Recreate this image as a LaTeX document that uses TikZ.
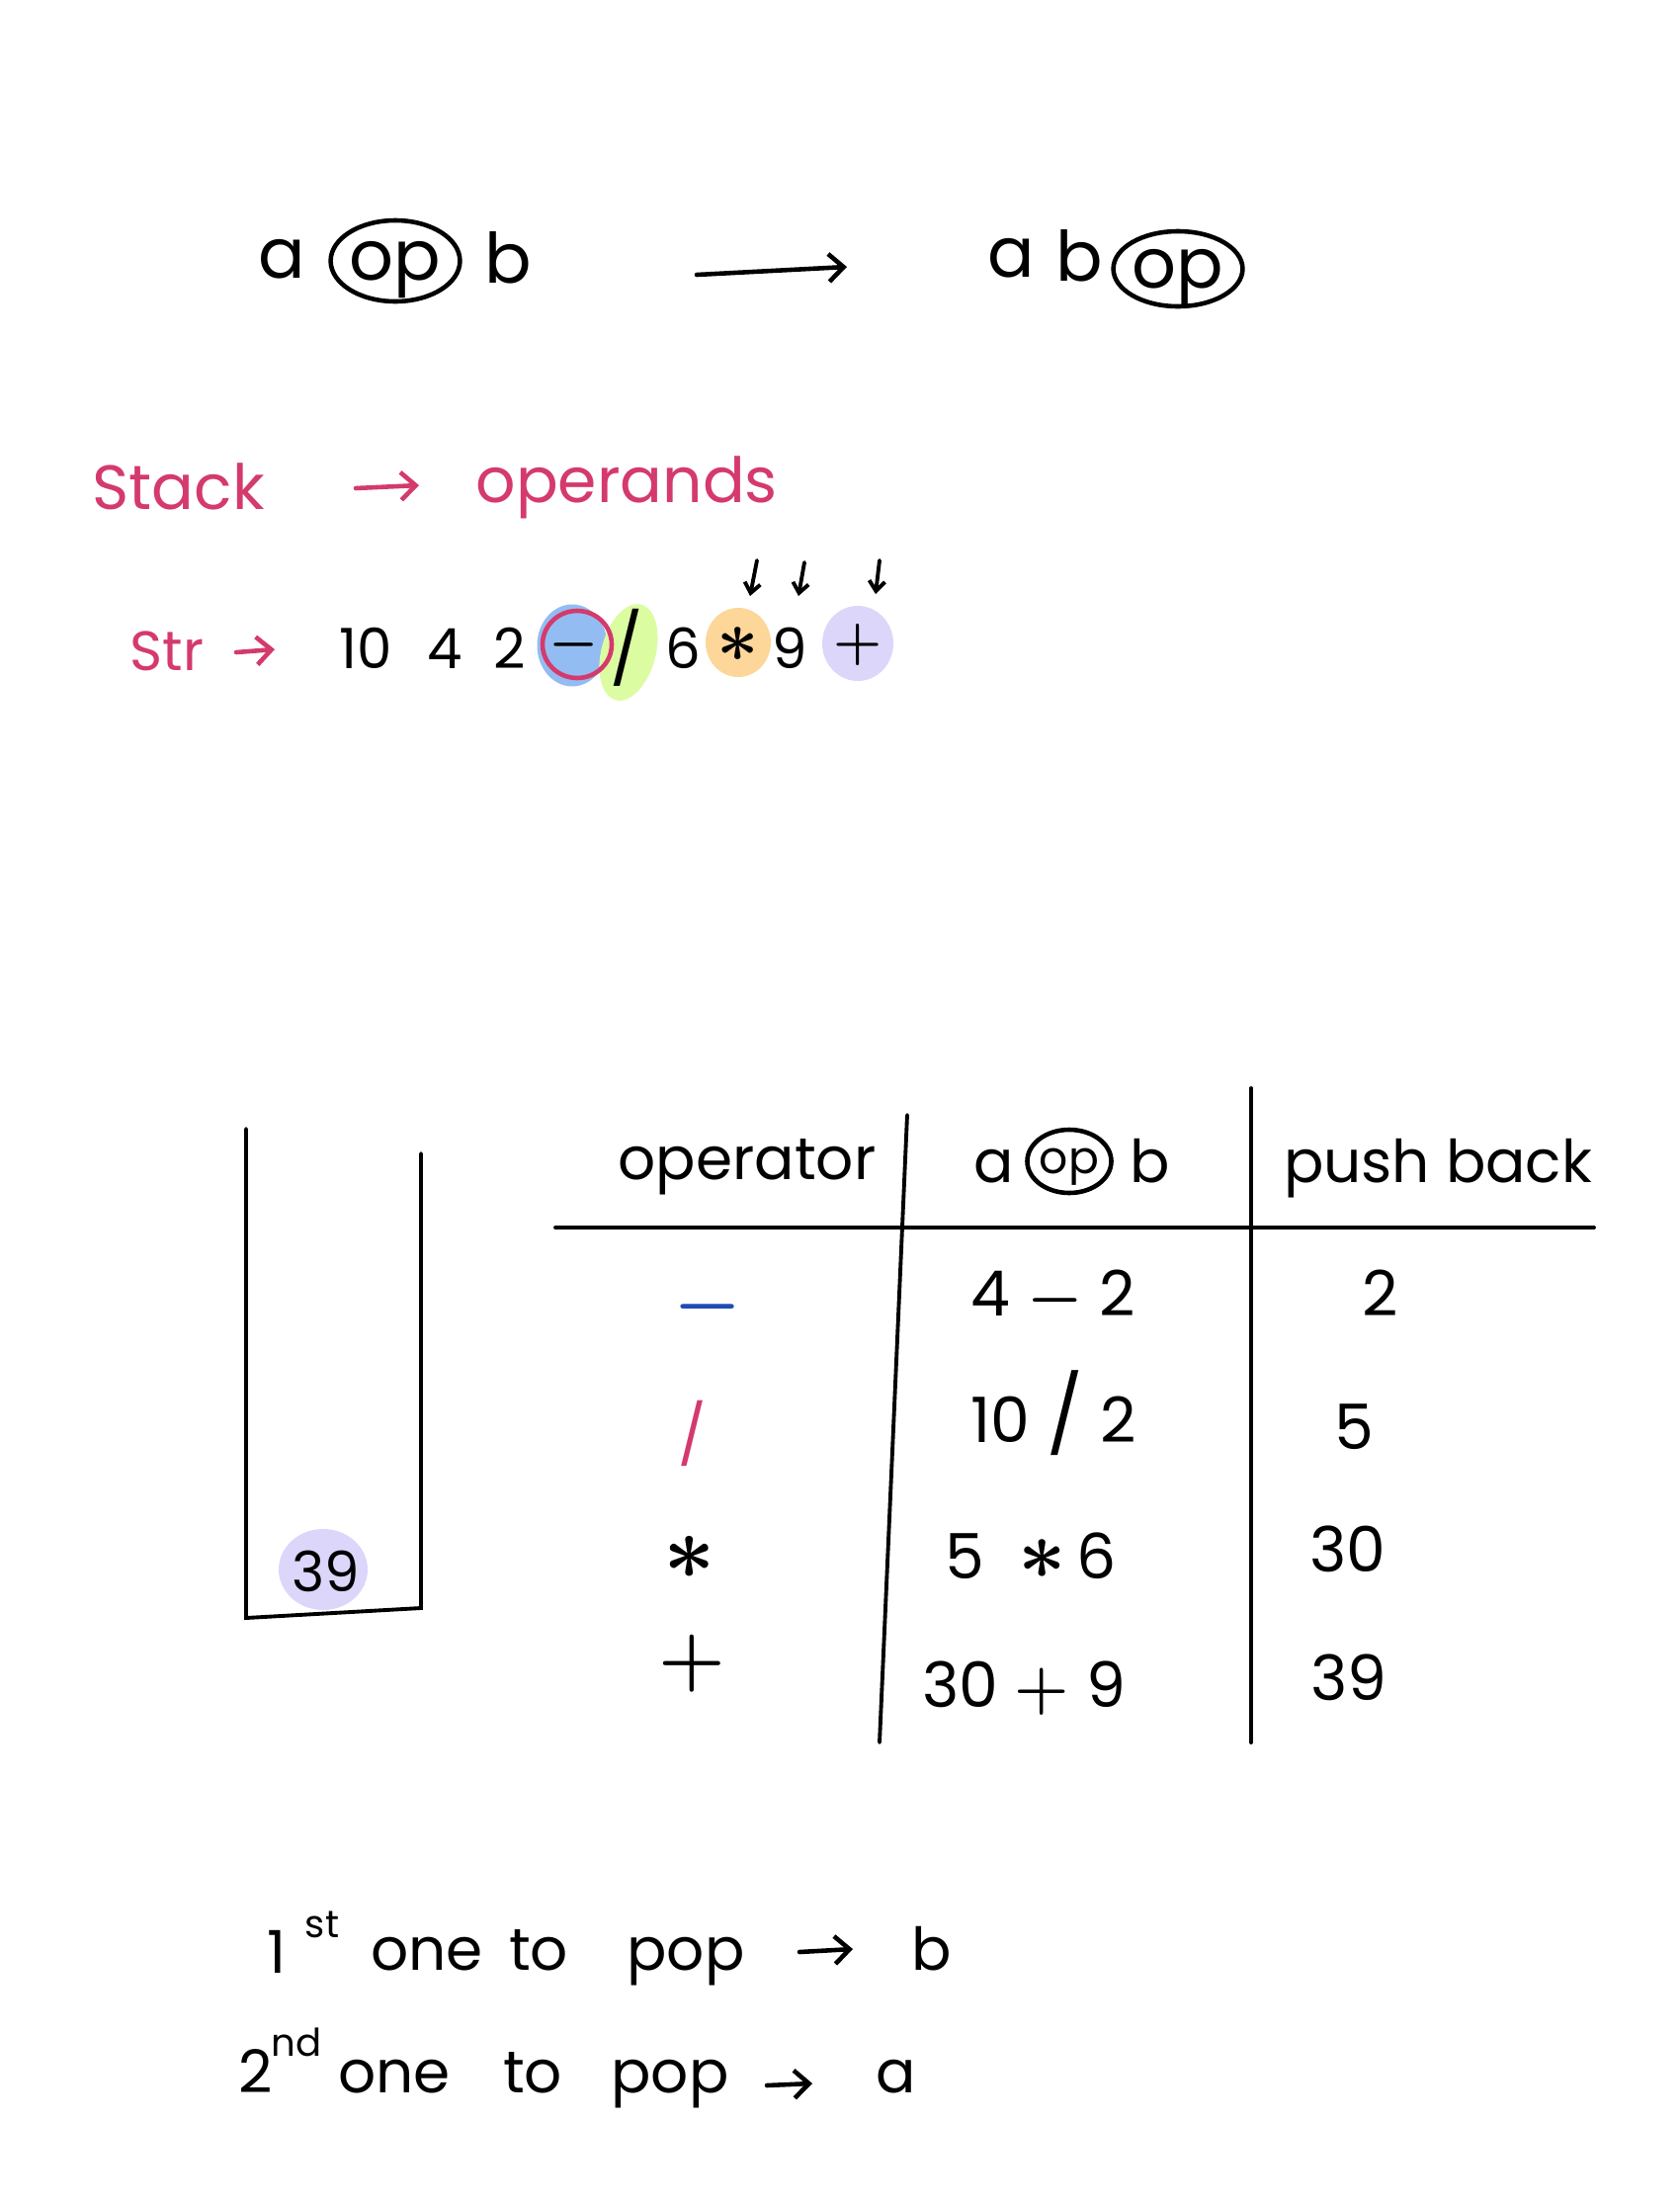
\documentclass[tikz,border=0pt]{standalone}
\usepackage{fix-cm}
\usepackage{fontspec}
\setmainfont{Poppins}
\usetikzlibrary{positioning,arrows.meta,shapes.geometric}

\definecolor{inkpink}{HTML}{D43A6C}
\definecolor{inkblue}{HTML}{1F4DB5}
\definecolor{blobblue}{HTML}{93BDF2}
\definecolor{blobgreen}{HTML}{DCFCA2}
\definecolor{bloborange}{HTML}{FDD699}
\definecolor{blobpurple}{HTML}{DCD6FB}

\begin{document}
\begin{tikzpicture}[x=0.1mm, y=-0.1mm,
                    big/.style={font=\fontsize{20}{24}\selectfont, inner sep=0pt, anchor=base},
                    note/.style={font=\fontsize{18}{22}\selectfont, inner sep=0pt, anchor=base west, text=inkpink},
                    tok/.style={font=\fontsize{16}{20}\selectfont, inner sep=0pt, anchor=base},
                    head/.style={font=\fontsize{17}{20}\selectfont, inner sep=0pt, anchor=base},
                    cell/.style={font=\fontsize{18}{22}\selectfont\boldmath, inner sep=0pt, anchor=base},
                    opsym/.style={font=\fontsize{22}{26}\selectfont\boldmath, inner sep=0pt},
                    txt/.style={font=\fontsize{17}{20}\selectfont, inner sep=0pt, anchor=base},
                    supscript/.style={font=\fontsize{11}{13}\selectfont, inner sep=0pt, anchor=base},
                    ring/.style={draw, ellipse, line width=1.3pt, inner sep=0pt, text depth=0pt},
                    blob/.style={ellipse, inner sep=0pt},
                    arrow/.style={-{Straight Barb[length=1.5mm,width=2.8mm]}, line width=1.3pt, line cap=round},
                    rule/.style={line width=1.1pt, line cap=round}]
    \useasboundingbox (0,0) rectangle (1700,2232);
    % infix to postfix
    \node[big] (lhsa) at (285,281) {a};
    \node[ring, big, anchor=center, minimum width=11mm, minimum height=8.2mm] (lhsop) at (400,264) {op};
    \node[big] (lhsb) at (514,286) {b};
    \coordinate (mapstart) at (705,278);
    \coordinate (mapend) at (857,270);
    \draw[arrow] (mapstart) -- (mapend);
    \node[big] (rhsa) at (1023,280) {a};
    \node[big] (rhsb) at (1092,284) {b};
    \node[ring, big, anchor=center, minimum width=12.3mm, minimum height=7.6mm] (rhsop) at (1192,272) {op};
    % what the stack holds
    \node[note] (stacknote) at (93,515) {Stack};
    \node[note] (operands) at (481,508) {operands};
    \coordinate (notestart) at (360,494);
    \coordinate (noteend) at (424,491);
    \draw[arrow, draw=inkpink] (notestart) -- (noteend);
    % input string
    \node[note, font=\fontsize{16}{20}\selectfont] (strlabel) at (131,678) {Str};
    \coordinate (strstart) at (239,660);
    \coordinate (strend) at (278,657);
    \draw[arrow, draw=inkpink] (strstart) -- (strend);
    \node[blob, fill=blobblue, minimum width=7.1mm, minimum height=8.3mm] (minusblob) at (579,653) {};
    \node[blob, fill=blobgreen, minimum width=5.5mm, minimum height=10mm, rotate=-15] (divblob) at (636,660) {};
    \node[blob, fill=bloborange, minimum width=6.6mm, minimum height=7mm] (mulblob) at (747,650) {};
    \node[blob, fill=blobpurple, minimum width=7.2mm, minimum height=7.6mm] (addblob) at (868,651) {};
    \node[ellipse, draw=inkpink, line width=1.3pt, minimum width=7mm, minimum height=6.8mm] (minusring) at (584,652) {};
    \node[tok] (tok10) at (370,676) {10};
    \node[tok] (tok4) at (450,676) {4};
    \node[tok] (tok2) at (516,676) {2};
    \node[opsym, font=\fontsize{16}{20}\selectfont\boldmath] (tokminus) at (581,652) {$-$};
    \node[tok, font=\fontsize{20}{24}\selectfont, anchor=center] (tokdiv) at (634,655) {/};
    \node[tok] (tok6) at (691,676) {6};
    \node[opsym, font=\fontsize{21}{24}\selectfont\boldmath] (tokmul) at (747,652) {$\ast$};
    \node[tok] (tok9) at (799,676) {9};
    \node[opsym, font=\fontsize{16}{20}\selectfont\boldmath] (tokadd) at (868,652) {$+$};
    % pointers above the string
    \coordinate (ptrA) at (766,567);
    \coordinate (ptrAend) at (759,603);
    \coordinate (ptrB) at (814,569);
    \coordinate (ptrBend) at (808,603);
    \coordinate (ptrC) at (890,567);
    \coordinate (ptrCend) at (886,601);
    \draw[arrow, -{Straight Barb[length=1mm,width=1.6mm]}, line width=1.1pt] (ptrA) -- (ptrAend);
    \draw[arrow, -{Straight Barb[length=1mm,width=1.6mm]}, line width=1.1pt] (ptrB) -- (ptrBend);
    \draw[arrow, -{Straight Barb[length=1mm,width=1.6mm]}, line width=1.1pt] (ptrC) -- (ptrCend);
    % the stack
    \draw[rule] (249,1142) -- (249,1637) -- (426,1627) -- (426,1167);
    \node[blob, fill=blobpurple, minimum width=9mm, minimum height=8.2mm] (topblob) at (327,1588) {};
    \node[tok, anchor=center] (topval) at (330,1590) {39};
    % table of steps
    \draw[rule] (562,1242) -- (1613,1242);
    \draw[rule] (918,1128) -- (890,1763);
    \draw[rule] (1266,1101) -- (1266,1763);
    \node[head] (hdop) at (756,1193) {operator};
    \node[head] (hda) at (1006,1196) {a};
    \node[ring, font=\fontsize{13}{16}\selectfont, minimum width=7.7mm, minimum height=6.4mm] (hdring) at (1082,1175) {op};
    \node[head] (hdb) at (1164,1196) {b};
    \node[head] (hdpush) at (1455,1196) {push back};
    % row 1
    \node[opsym, text=inkblue] (opone) at (716,1322) {$-$};
    \node[cell] (exone) at (1066,1331) {4 $-$ 2};
    \node[cell] (resone) at (1397,1331) {2};
    % row 2
    \node[txt, text=inkpink, anchor=center] (optwo) at (701,1450) {/};
    \node[cell] (extwo) at (1066,1459) {10 {\fontsize{22}{26}\selectfont/} 2};
    \node[cell] (restwo) at (1370,1466) {5};
    % row 3
    \node[opsym, font=\fontsize{26}{30}\selectfont\boldmath] (opthree) at (698,1576) {$\ast$};
    \node[cell] (exthree) at (1043,1597) {5\ \ {\fontsize{24}{28}\selectfont$\ast$}\,6};
    \node[cell] (resthree) at (1364,1590) {30};
    % row 4
    \node[opsym] (opfour) at (700,1683) {$+$};
    \node[cell] (exfour) at (1036,1727) {30 $+$ 9};
    \node[cell] (resfour) at (1365,1720) {39};
    % pop order
    \node[txt] (first) at (280,1996) {1};
    \node[supscript] (firstsup) at (326,1960) {st};
    \node[txt] (firstone) at (432,1993) {one};
    \node[txt] (firstto) at (545,1993) {to};
    \node[txt] (firstpop) at (694,1993) {pop};
    \coordinate (firststart) at (809,1975);
    \coordinate (firstend) at (863,1972);
    \draw[arrow] (firststart) -- (firstend);
    \node[txt] (firstb) at (943,1993) {b};
    \node[txt] (second) at (259,2117) {2};
    \node[supscript] (secondsup) at (300,2080) {nd};
    \node[txt] (secondone) at (399,2117) {one};
    \node[txt] (secondto) at (539,2117) {to};
    \node[txt] (secondpop) at (678,2117) {pop};
    \coordinate (secondstart) at (776,2110);
    \coordinate (secondend) at (822,2108);
    \draw[arrow] (secondstart) -- (secondend);
    \node[txt] (seconda) at (907,2117) {a};
\end{tikzpicture}
\end{document}
